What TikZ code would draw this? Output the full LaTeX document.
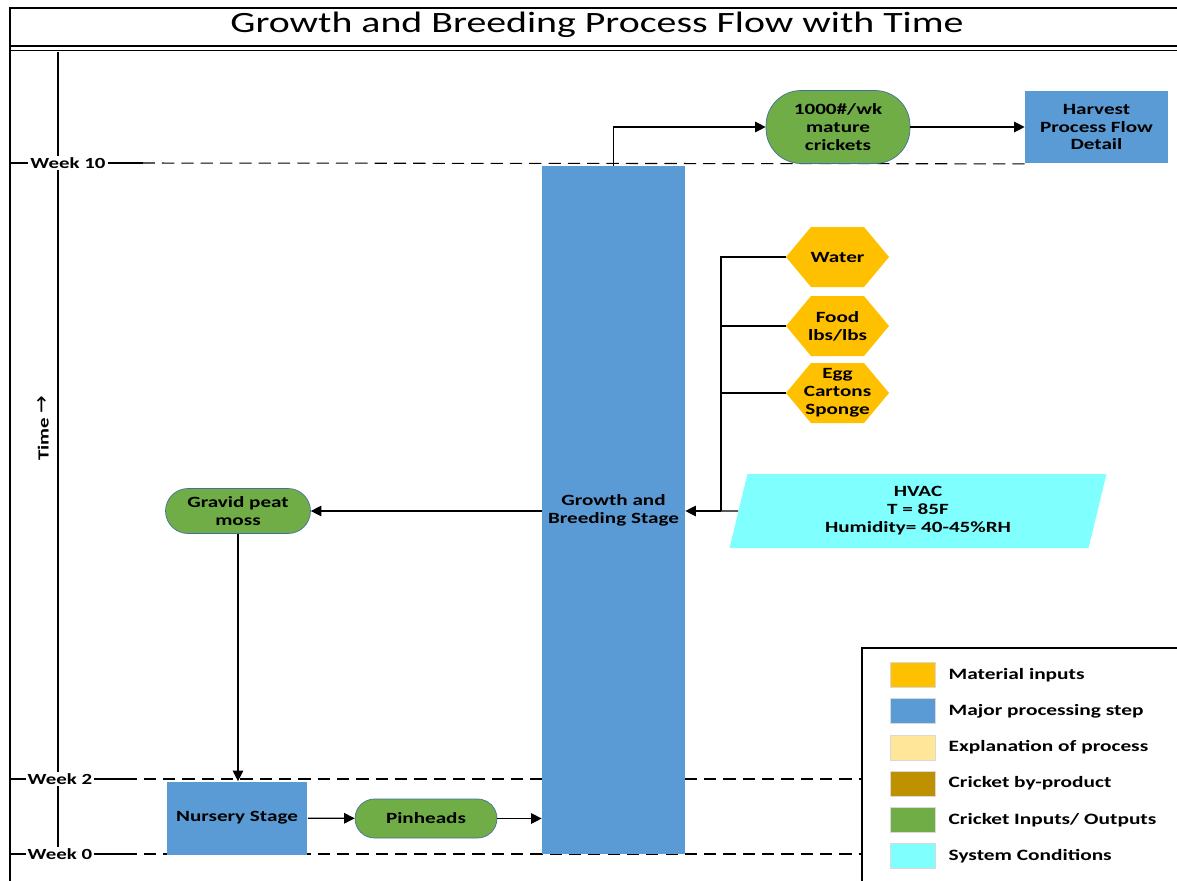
\documentclass[tikz,border=0pt]{standalone}
\usepackage{fontspec}
\setmainfont{Carlito}[FakeStretch=1.35]
\newfontfamily\arrowfont{DejaVu Sans}
\usetikzlibrary{arrows.meta, positioning, shapes.geometric, calc}

\definecolor{matorange}{HTML}{FFC000}
\definecolor{procblue}{HTML}{5B9BD5}
\definecolor{explyellow}{HTML}{FFE699}
\definecolor{bygold}{HTML}{BF9000}
\definecolor{crgreen}{HTML}{70AD47}
\definecolor{syscyan}{HTML}{80FFFF}
\definecolor{edgeblue}{HTML}{41719C}

\tikzset{
  lbl/.style={font=\bfseries\fontsize{8.9}{10.2}\selectfont, align=center, inner sep=1pt},
  stage/.style={lbl, fill=procblue},
  cricket/.style={lbl, fill=crgreen, draw=edgeblue, line width=0.4pt, rounded corners=0.39cm},
  matin/.style={lbl, minimum width=2.06cm, minimum height=1.2cm,
    path picture={\fill[matorange] (path picture bounding box.west)
      -- ($(path picture bounding box.north west)+(0.5cm,0)$)
      -- ($(path picture bounding box.north east)+(-0.5cm,0)$)
      -- (path picture bounding box.east)
      -- ($(path picture bounding box.south east)+(-0.5cm,0)$)
      -- ($(path picture bounding box.south west)+(0.5cm,0)$) -- cycle;}},
  syscond/.style={lbl, trapezium, trapezium left angle=71, trapezium right angle=109,
    trapezium stretches body, fill=syscyan, minimum width=7.54cm, minimum height=1.48cm},
  ln/.style={line width=0.7pt},
  arr/.style={ln, -{Triangle[length=6pt,width=6pt]}},
  wk/.style={font=\bfseries\fontsize{8.8}{9}\selectfont, inner sep=1pt, fill=white},
  wkdash/.style={line width=0.6pt, dash pattern=on 7pt off 4pt},
  swatch/.style={fill=#1, draw=black!15, minimum width=0.9cm, minimum height=0.5cm, inner sep=0pt},
  legtxt/.style={font=\bfseries\fontsize{9}{10}\selectfont, anchor=west, inner sep=0pt},
}

\begin{document}
\begin{tikzpicture}[x=0.02cm, y=-0.02cm]
\useasboundingbox (0,0) rectangle (1177,880);
% frame and title
\draw[line width=1.4pt] (10,882) -- (10,8) -- (1180,8);
\draw[line width=0.8pt] (10,46) -- (1180,46);
\draw[line width=0.8pt] (10,50.5) -- (1180,50.5);
\node (title) at (597,25) {\fontsize{16.8}{18}\selectfont Growth and Breeding Process Flow with Time};

% time axis
\draw[ln] (58,52) -- (58,848);
\node[rotate=90, font=\bfseries\fontsize{8.8}{9}\selectfont] (timelbl) at (43,428)
  {Time {\arrowfont\mdseries\fontsize{12}{12}\selectfont →}};
\node[wk] (wk10) at (68,163) {Week 10};
\node[wk] (wk2) at (60,779) {Week 2};
\node[wk] (wk0) at (60,854) {Week 0};

\node[stage, minimum width=2.86cm, minimum height=1.46cm] (harv) at (1096.5,127) {Harvest\\Process Flow\\Detail};
\coordinate (legtl) at (862,648);

% week lines
\draw[ln] (10,163) -- (wk10.west);
\draw[ln] (wk10.east) -- ++(35,0) coordinate (w10a);
\draw[wkdash] (w10a) -- (harv.south west);
\draw[ln] (10,779) -- (wk2.west);
\draw[ln] (wk2.east) -- ++(30,0) coordinate (w2a);
\draw[wkdash] (w2a) -- (legtl |- wk2);
\draw[ln] (10,854) -- (wk0.west);
\draw[ln] (wk0.east) -- ++(30,0) coordinate (w0a);
\draw[wkdash] (w0a) -- (legtl |- wk0);

% process nodes
\node[stage, minimum width=2.86cm, minimum height=13.76cm] (grow) at (613.5,510) {Growth and\\Breeding Stage};
\node[cricket, rounded corners=0.7cm, minimum width=2.88cm, minimum height=1.46cm] (mature) at (838,127) {1000\#/wk\\mature\\crickets};
\node[matin] (water) at (837.5,257) {Water};
\node[matin] (food) at (837.5,326) {Food\\lbs/lbs};
\node[matin] (egg) at (837.5,393) {Egg\\Cartons\\Sponge};
\node[syscond] (hvac) at (918,511) {HVAC\\T = 85F\\Humidity= 40-45\%RH};
\node[cricket, rounded corners=0.45cm, minimum width=2.9cm, minimum height=0.9cm] (gravid) at (238,511) {Gravid peat\\moss};
\node[stage, minimum width=2.82cm, minimum height=1.46cm] (nursery) at (237,818) {Nursery Stage};
\node[cricket, minimum width=2.84cm, minimum height=0.78cm] (pin) at (426,818.5) {Pinheads};

% connectors
\draw[arr] (grow.north) |- (mature.west);
\draw[arr] (mature) -- (harv);
\coordinate (bus) at (721,511);
\draw[ln] (water.west) -| (bus);
\draw[ln] (food.west) -- (food.west -| bus);
\draw[ln] (egg.west) -- (egg.west -| bus);
\draw[ln] (hvac.west) -- (bus);
\draw[arr] (bus) -- (grow.east |- bus);
\draw[arr] (grow.west |- gravid.east) -- (gravid.east);
\draw[arr] (gravid.south) -- (gravid.south |- nursery.north);
\draw[arr] (nursery) -- (pin);
\draw[arr] (pin) -- (pin -| grow.west);

% legend
\draw[line width=1pt] (1180,648) -- (legtl) -- (862,882);
\foreach \col/\txt [count=\i] in {matorange/Material inputs, procblue/Major processing step,
    explyellow/Explanation of process, bygold/Cricket by-product,
    crgreen/{Cricket Inputs/ Outputs}, syscyan/System Conditions}
  {
  \node[swatch=\col] (sw\i) at (912.5,{675+(\i-1)*36.2}) {};
  \node[legtxt, right=0.26cm of sw\i] (lt\i) {\txt};
  }
\end{tikzpicture}
\end{document}
